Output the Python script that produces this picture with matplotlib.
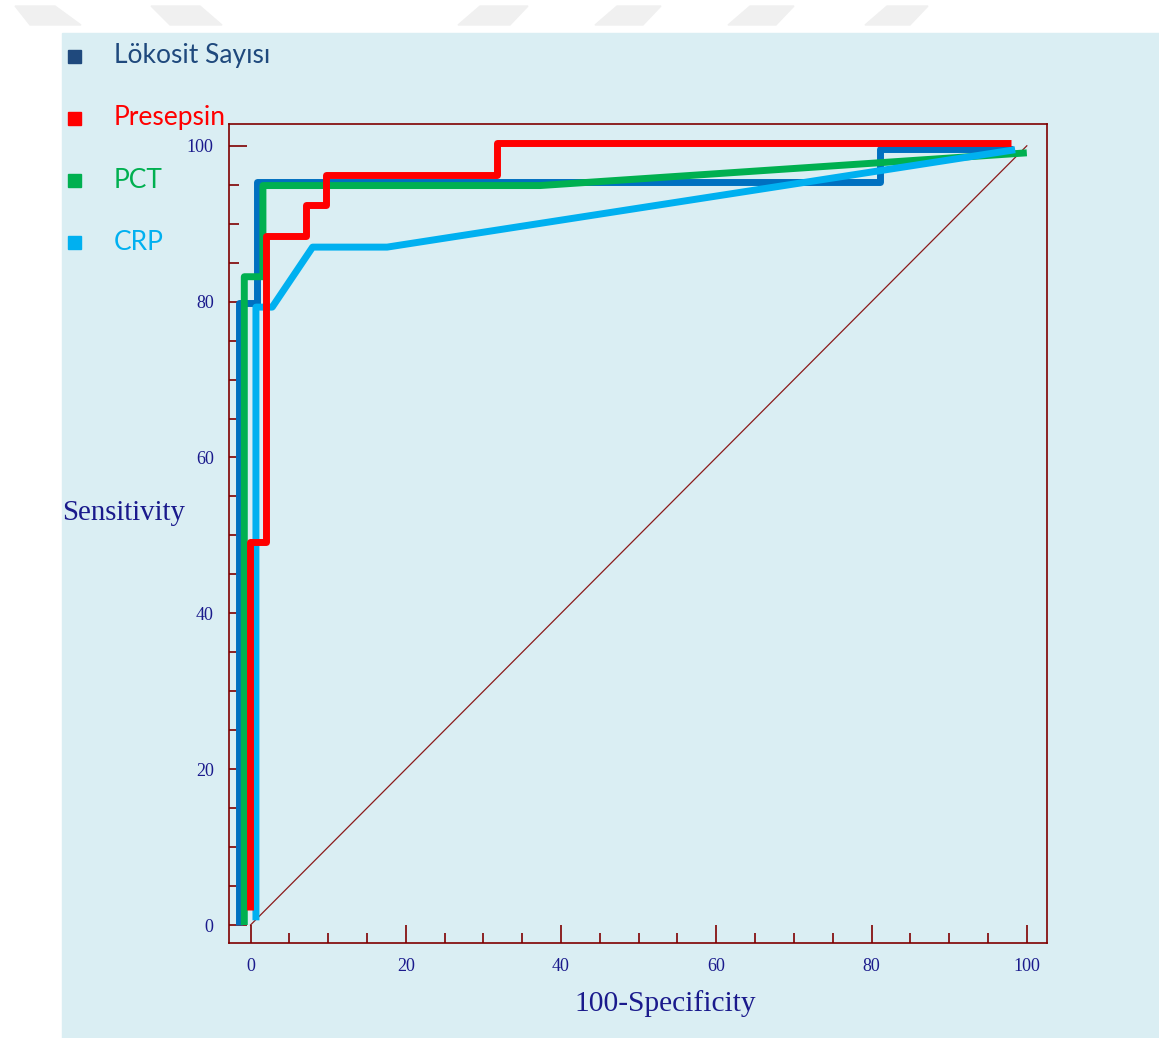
import matplotlib
matplotlib.use("Agg")
import matplotlib.pyplot as plt
from matplotlib.patches import Rectangle, Polygon
from matplotlib.ticker import MultipleLocator

# ROC curve points (100-specificity, sensitivity)
lokosit_x = [-1.5, -1.5, 0.8, 0.8, 81.1, 81.1, 98.2]
lokosit_y = [0, 79.8, 79.8, 95.3, 95.3, 99.6, 99.6]

presepsin_x = [-0.1, -0.1, 2.0, 2.0, 7.1, 7.1, 9.7, 9.7, 31.7, 31.7, 98.0]
presepsin_y = [1.9, 49.2, 49.2, 88.4, 88.4, 92.4, 92.4, 96.2, 96.2, 100.4, 100.4]

pct_x = [-0.8, -0.8, 1.6, 1.6, 37.3, 100]
pct_y = [0, 83.2, 83.2, 94.9, 94.9, 99.1]

crp_x = [0.7, 0.7, 2.8, 8.0, 17.6, 98.5]
crp_y = [0.6, 79.3, 79.3, 87.0, 87.0, 99.5]

names = ["Lökosit Sayısı", "Presepsin", "PCT", "CRP"]
line_colors = ["#0070C0", "#FF0000", "#00B050", "#00B0F0"]
label_colors = ["#1F497D", "#FF0000", "#00B050", "#00B0F0"]

bg = "#DAEEF3"
axis_red = "#7F0000"
navy = "#1A1A8C"

W, H = 1159, 1038
fig = plt.figure(figsize=(W / 100, H / 100), dpi=100)
fig.patch.set_facecolor("white")

# light blue slide area
fig.patches.append(Rectangle((62 / W, 0), 1 - 62 / W, 1 - 33 / H,
                             transform=fig.transFigure, color=bg, zorder=-2))
# faint header shapes: (top left, top right, bottom left, bottom right)
shapes = [(15, 55, 30, 81), (151, 200, 170, 222), (480, 528, 458, 510),
          (617, 661, 595, 643), (750, 794, 728, 776), (887, 928, 865, 910)]
for tl, tr, bl, br in shapes:
    pts = [(tl, 6), (tr, 6), (br, 25), (bl, 25)]
    fig.patches.append(Polygon([(x / W, 1 - y / H) for x, y in pts],
                               closed=True, transform=fig.transFigure,
                               color="#F0F0F0", zorder=-2))

ax = fig.add_axes([229 / W, 1 - 943 / H, (1047 - 229) / W, (943 - 124) / H])
ax.set_facecolor(bg)
ax.set_xlim(-2.77, 102.6)
ax.set_ylim(-2.31, 102.8)

# reference diagonal
ax.plot([0, 100], [0, 100], color="#8B1A1A", lw=0.9, zorder=1)

kw = dict(lw=5.0, solid_joinstyle="round", solid_capstyle="butt")
ax.plot(lokosit_x, lokosit_y, color=line_colors[0], zorder=2, **kw)
ax.plot(pct_x, pct_y, color=line_colors[2], zorder=3, **kw)
ax.plot(crp_x, crp_y, color=line_colors[3], zorder=4, **kw)
ax.plot(presepsin_x, presepsin_y, color=line_colors[1], zorder=5, **kw)

for sp in ax.spines.values():
    sp.set_color(axis_red)
    sp.set_linewidth(1.2)

ax.xaxis.set_major_locator(MultipleLocator(20))
ax.xaxis.set_minor_locator(MultipleLocator(5))
ax.yaxis.set_major_locator(MultipleLocator(20))
ax.yaxis.set_minor_locator(MultipleLocator(5))
ax.tick_params(which="both", direction="in", color=axis_red, width=1.2,
               top=False, right=False)
ax.tick_params(which="major", length=13, pad=11, labelsize=13, labelcolor=navy)
ax.tick_params(which="minor", length=7)
for lab in ax.get_xticklabels() + ax.get_yticklabels():
    lab.set_family("Liberation Serif")

fig.text(62 / W, 1 - 513 / H, "Sensitivity", family="Liberation Serif",
         fontsize=20.8, color=navy, ha="left", va="center")
fig.text(665 / W, 1 - 1004 / H, "100-Specificity", family="Liberation Serif",
         fontsize=21.2, color=navy, ha="center", va="center")

# legend entries
for i, (name, c) in enumerate(zip(names, label_colors)):
    y = 1 - (56 + 62 * i) / H
    fig.patches.append(Rectangle(((74 - 6.5) / W, y - 6.5 / H), 13 / W, 13 / H,
                                 transform=fig.transFigure, color=c, zorder=6))
    fig.text(114 / W, y, name, family="Lato", fontsize=19, color=c,
             ha="left", va="center", zorder=6)

fig.savefig("out.png", dpi=100, facecolor=fig.get_facecolor())
